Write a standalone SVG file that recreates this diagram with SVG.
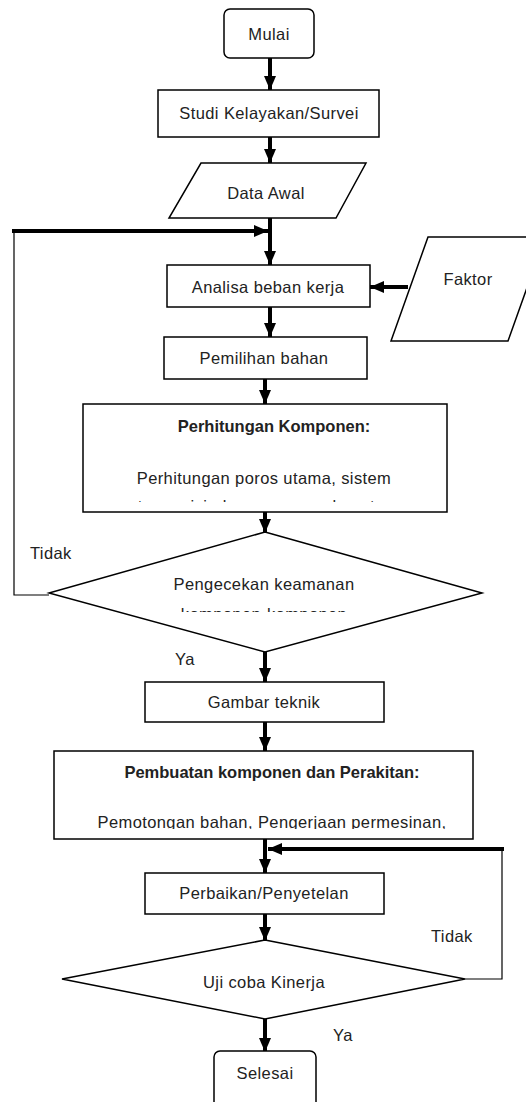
<svg xmlns="http://www.w3.org/2000/svg" width="526" height="1102" viewBox="0 0 526 1102">
<style>
.box{fill:#fff;stroke:#000;stroke-width:1.5}
.thin{fill:none;stroke:#000;stroke-width:1.2}
.thick{fill:none;stroke:#000;stroke-width:4}
.t{font-family:"Liberation Sans",Arial,sans-serif;font-size:16.5px;letter-spacing:0.4px;fill:#222;text-anchor:middle}
.b{font-weight:bold;letter-spacing:0}
.lbl{font-family:"Liberation Sans",Arial,sans-serif;font-size:16.5px;letter-spacing:0.4px;fill:#222}
</style>
<defs>
<marker id="ah" viewBox="0 0 14 12" refX="14" refY="6" markerWidth="14" markerHeight="12" markerUnits="userSpaceOnUse" orient="auto">
<path d="M0,0 L14,6 L0,12 z" fill="#000"/>
</marker>
<clipPath id="c1"><rect x="84" y="405" width="362" height="97"/></clipPath>
<clipPath id="c2"><rect x="40" y="540" width="450" height="72"/></clipPath>
<clipPath id="c3"><rect x="55" y="752" width="417" height="77"/></clipPath>
</defs>
<g id="connectors">
<line class="thick" x1="270" y1="58" x2="270" y2="90" marker-end="url(#ah)"/>
<line class="thick" x1="270" y1="137" x2="270" y2="163" marker-end="url(#ah)"/>
<line class="thick" x1="270" y1="218" x2="270" y2="265" marker-end="url(#ah)"/>
<path class="thin" d="M49,595 H14 V231"/>
<line class="thick" x1="12" y1="231" x2="268" y2="231" marker-end="url(#ah)"/>
<line class="thick" x1="408" y1="287" x2="370" y2="287" marker-end="url(#ah)"/>
<line class="thick" x1="270" y1="307" x2="270" y2="337" marker-end="url(#ah)"/>
<line class="thick" x1="265" y1="379" x2="265" y2="404" marker-end="url(#ah)"/>
<line class="thick" x1="265" y1="512" x2="265" y2="533" marker-end="url(#ah)"/>
<line class="thick" x1="265" y1="652" x2="265" y2="682" marker-end="url(#ah)"/>
<line class="thick" x1="265" y1="722" x2="265" y2="751" marker-end="url(#ah)"/>
<line class="thick" x1="265" y1="839" x2="265" y2="873" marker-end="url(#ah)"/>
<path class="thin" d="M465,979 H502 V849"/>
<line class="thick" x1="504" y1="849" x2="268" y2="849" marker-end="url(#ah)"/>
<line class="thick" x1="265" y1="914" x2="265" y2="941" marker-end="url(#ah)"/>
<line class="thick" x1="265" y1="1019" x2="265" y2="1052" marker-end="url(#ah)"/>
</g>
<g id="mulai">
<rect class="box" x="224" y="9" width="90" height="49" rx="6"/>
<text class="t" x="269" y="40">Mulai</text>
</g>
<g id="studi">
<rect class="box" x="158" y="90" width="221" height="47"/>
<text class="t" x="269" y="119">Studi Kelayakan/Survei</text>
</g>
<g id="data-awal">
<polygon class="box" points="201,163 366,163 336,218 169,218"/>
<text class="t" x="266" y="199">Data Awal</text>
</g>
<g id="faktor">
<polygon class="box" points="428,237 545,237 508,341 391,341"/>
<text class="t" x="468" y="285">Faktor</text>
</g>
<g id="analisa">
<rect class="box" x="167" y="265" width="203" height="42"/>
<text class="t" x="268" y="293">Analisa beban kerja</text>
</g>
<g id="pemilihan">
<rect class="box" x="164" y="337" width="203" height="42"/>
<text class="t" x="264" y="364">Pemilihan bahan</text>
</g>
<g id="perhitungan">
<rect class="box" x="83" y="404" width="364" height="108"/>
<g clip-path="url(#c1)">
<text class="t b" x="274" y="432">Perhitungan Komponen:</text>
<text class="t" x="264" y="484">Perhitungan poros utama, sistem</text>
<text class="t" x="264" y="512">transmisi, daya penggerak motor</text>
</g>
</g>
<g id="pengecekan">
<polygon class="box" points="265,532 482,593 265,652 49,593"/>
<g clip-path="url(#c2)">
<text class="t" x="264" y="590">Pengecekan keamanan</text>
<text class="t" x="264" y="620">komponen-komponen</text>
</g>
</g>
<text class="lbl" x="30" y="559">Tidak</text>
<text class="lbl" x="175" y="665">Ya</text>
<g id="gambar">
<rect class="box" x="145" y="682" width="239" height="40"/>
<text class="t" x="264" y="708">Gambar teknik</text>
</g>
<g id="pembuatan">
<rect class="box" x="54" y="751" width="419" height="88"/>
<g clip-path="url(#c3)">
<text class="t b" x="272" y="778">Pembuatan komponen dan Perakitan:</text>
<text class="t" x="272" y="828">Pemotongan bahan, Pengerjaan permesinan,</text>
</g>
</g>
<g id="perbaikan">
<rect class="box" x="145" y="873" width="239" height="41"/>
<text class="t" x="264" y="899">Perbaikan/Penyetelan</text>
</g>
<g id="uji">
<polygon class="box" points="265,940 465,979 265,1019 62,979"/>
<text class="t" x="264" y="988">Uji coba Kinerja</text>
</g>
<text class="lbl" x="431" y="942">Tidak</text>
<text class="lbl" x="333" y="1041">Ya</text>
<g id="selesai">
<rect class="box" x="214" y="1051" width="102" height="60" rx="6"/>
<text class="t" x="265" y="1079">Selesai</text>
</g>
</svg>
